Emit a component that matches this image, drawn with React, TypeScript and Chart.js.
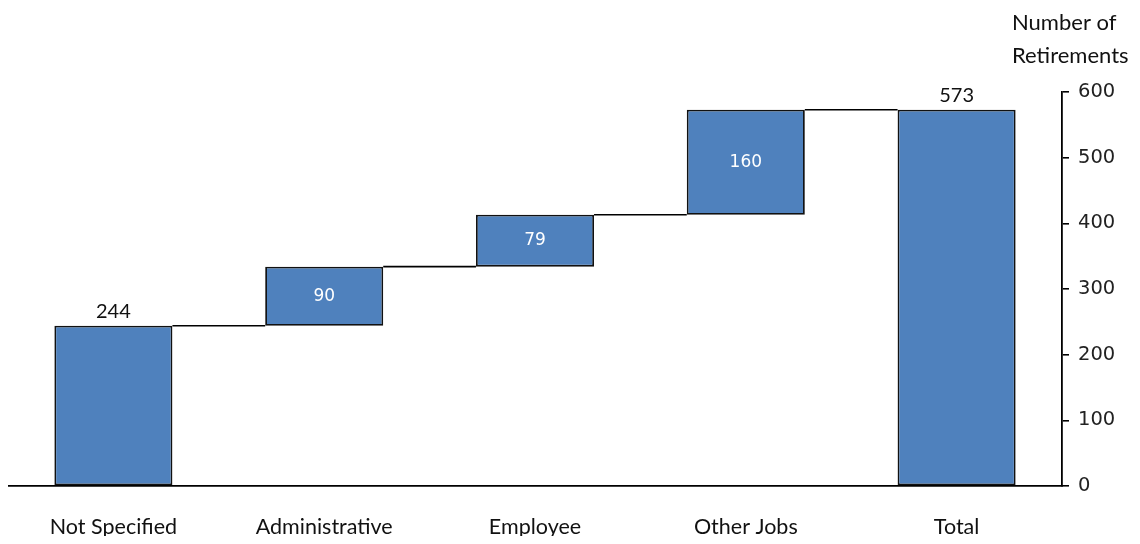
import React, { useEffect, useRef } from 'react';
import { Chart, registerables } from 'chart.js';

Chart.register(...registerables);

const categories = ['Not Specified', 'Administrative', 'Employee', 'Other Jobs', 'Total'];
const increments = [244, 90, 79, 160];
const totalValue = 573;
const yMin = 0;
const yMax = 600;
const yStep = 100;
const axisTitle = ['Number of', 'Retirements'];

const BAR_COLOR = '#4F81BD';
const LABEL_FONT = 'Lato, "Open Sans", sans-serif';
const TICK_FONT = '"DejaVu Sans", Verdana, sans-serif';

function buildRanges() {
  const ranges: [number, number][] = [];
  let acc = 0;
  increments.forEach((v) => {
    ranges.push([acc, acc + v]);
    acc += v;
  });
  ranges.push([0, totalValue]);
  return ranges;
}

export default function App() {
  const ref = useRef<HTMLCanvasElement | null>(null);

  useEffect(() => {
    if (!ref.current) return;
    const ranges = buildRanges();
    const labelValues = [...increments, totalValue];

    const connectorPlugin = {
      id: 'connectors',
      afterDatasetsDraw(chart: any) {
        const meta = chart.getDatasetMeta(0);
        const y = chart.scales.y;
        const ctx = chart.ctx;
        ctx.save();
        ctx.strokeStyle = '#000';
        ctx.lineWidth = 1.6;
        for (let i = 0; i < ranges.length - 1; i++) {
          const a = meta.data[i];
          const b = meta.data[i + 1];
          const level = ranges[i][1];
          const py = y.getPixelForValue(level);
          ctx.beginPath();
          ctx.moveTo(a.x + a.width / 2, py);
          ctx.lineTo(b.x - b.width / 2, py);
          ctx.stroke();
        }
        ctx.restore();
      },
    };

    const labelPlugin = {
      id: 'valueLabels',
      afterDatasetsDraw(chart: any) {
        const meta = chart.getDatasetMeta(0);
        const ctx = chart.ctx;
        ctx.save();
        meta.data.forEach((bar: any, i: number) => {
          const isEdge = i === 0 || i === meta.data.length - 1;
          const text = String(labelValues[i]);
          if (isEdge) {
            ctx.font = `20px ${LABEL_FONT}`;
            ctx.fillStyle = '#111';
            ctx.textAlign = 'center';
            ctx.textBaseline = 'bottom';
            ctx.fillText(text, bar.x, Math.min(bar.y, bar.base) - 4);
          } else {
            ctx.font = `17px ${TICK_FONT}`;
            ctx.fillStyle = '#fff';
            ctx.textAlign = 'center';
            ctx.textBaseline = 'middle';
            ctx.fillText(text, bar.x, (bar.y + bar.base) / 2);
          }
        });
        ctx.restore();
      },
    };

    const titlePlugin = {
      id: 'axisTitle',
      afterDraw(chart: any) {
        const ctx = chart.ctx;
        ctx.save();
        ctx.font = `22px ${LABEL_FONT}`;
        ctx.fillStyle = '#111';
        ctx.textAlign = 'left';
        ctx.textBaseline = 'middle';
        const x = chart.scales.y.left - 50;
        axisTitle.forEach((line, i) => {
          ctx.fillText(line, x, 15 + i * 33);
        });
        ctx.restore();
      },
    };

    const chart = new Chart(ref.current, {
      type: 'bar',
      data: {
        labels: categories,
        datasets: [
          {
            data: ranges as any,
            backgroundColor: BAR_COLOR,
            borderColor: '#111',
            borderWidth: 1.8,
            borderSkipped: false,
            categoryPercentage: 1,
            barPercentage: 0.56,
          },
        ],
      },
      options: {
        animation: false,
        responsive: true,
        maintainAspectRatio: false,
        layout: { padding: { top: 84, left: 0, right: 0, bottom: 0 } },
        plugins: {
          legend: { display: false },
          tooltip: { enabled: false },
          title: { display: false },
        },
        scales: {
          x: {
            grid: { display: false, drawTicks: false },
            border: { display: true, color: '#000', width: 1.8 },
            ticks: {
              color: '#111',
              font: { family: LABEL_FONT, size: 21.5 },
              padding: 28,
              maxRotation: 0,
            },
            afterFit(scale: any) {
              scale.height = 50;
            },
          },
          y: {
            position: 'right',
            min: yMin,
            max: yMax,
            grid: { drawOnChartArea: false, drawTicks: true, tickLength: 7, color: '#000', lineWidth: 1.6 },
            border: { display: true, color: '#000', width: 1.8 },
            ticks: {
              stepSize: yStep,
              color: '#222',
              font: { family: TICK_FONT, size: 19.5 },
              padding: 9,
            },
            afterFit(scale: any) {
              scale.width = 70;
            },
          },
        },
      },
      plugins: [connectorPlugin, labelPlugin, titlePlugin],
    });
    return () => chart.destroy();
  }, []);

  return (
    <div style={{ position: 'relative', width: 1124, height: 528 }}>
      <canvas ref={ref} />
    </div>
  );
}
